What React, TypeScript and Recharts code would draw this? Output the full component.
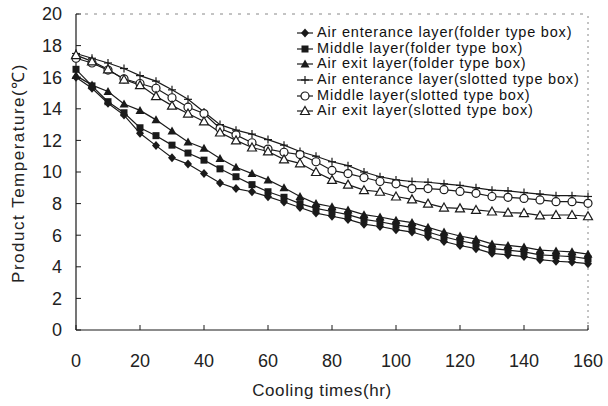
import React from 'react';
import { LineChart, Line, XAxis, YAxis, Legend, ReferenceLine } from 'recharts';

const hours = [0, 5, 10, 15, 20, 25, 30, 35, 40, 45, 50, 55, 60, 65, 70, 75, 80, 85, 90, 95, 100, 105, 110, 115, 120, 125, 130, 135, 140, 145, 150, 155, 160];

const airEntranceFolder = [16.0, 15.3, 14.35, 13.6, 12.45, 11.67, 10.9, 10.5, 9.9, 9.3, 8.95, 8.75, 8.44, 8.1, 7.75, 7.4, 7.2, 7.0, 6.7, 6.55, 6.35, 6.2, 5.9, 5.6, 5.35, 5.15, 4.85, 4.75, 4.65, 4.45, 4.35, 4.3, 4.2];
const middleFolder = [16.5, 15.45, 14.45, 13.75, 12.8, 12.3, 11.7, 11.2, 10.75, 10.2, 9.7, 9.2, 8.75, 8.4, 8.0, 7.7, 7.5, 7.3, 7.0, 6.85, 6.65, 6.5, 6.2, 5.9, 5.65, 5.45, 5.15, 5.05, 4.95, 4.75, 4.7, 4.65, 4.5];
const airExitFolder = [16.1, 15.5, 15.1, 14.3, 13.9, 13.3, 12.6, 11.9, 11.5, 10.85, 10.3, 9.9, 9.5, 9.0, 8.45, 8.0, 7.8, 7.6, 7.3, 7.15, 6.95, 6.8, 6.5, 6.2, 5.95, 5.75, 5.45, 5.35, 5.25, 5.05, 5.0, 4.95, 4.8];
const airEntranceSlotted = [17.5, 17.2, 16.9, 16.55, 16.1, 15.75, 15.2, 14.6, 13.8, 13.0, 12.65, 12.4, 12.05, 11.7, 11.3, 11.0, 10.65, 10.4, 10.0, 9.7, 9.5, 9.4, 9.35, 9.25, 9.15, 9.0, 8.85, 8.8, 8.7, 8.6, 8.5, 8.5, 8.45];
const middleSlotted = [17.2, 16.9, 16.45, 15.9, 15.6, 15.3, 14.7, 14.1, 13.7, 12.75, 12.35, 11.85, 11.45, 11.25, 11.1, 10.65, 10.1, 9.9, 9.65, 9.4, 9.25, 8.95, 8.95, 8.88, 8.77, 8.65, 8.45, 8.4, 8.33, 8.23, 8.12, 8.12, 8.02];
const airExitSlotted = [17.4, 17.0, 16.5, 15.85, 15.5, 14.8, 14.2, 13.7, 13.2, 12.5, 12.0, 11.55, 11.3, 10.8, 10.55, 10.0, 9.5, 9.2, 8.85, 8.75, 8.45, 8.27, 8.0, 7.75, 7.7, 7.6, 7.5, 7.43, 7.4, 7.25, 7.28, 7.28, 7.2];

const xTicks = [0, 20, 40, 60, 80, 100, 120, 140, 160];
const yTicks = [0, 2, 4, 6, 8, 10, 12, 14, 16, 18, 20];

const seriesNames = [
  'Air enterance layer(folder type box)',
  'Middle layer(folder type box)',
  'Air exit layer(folder type box)',
  'Air enterance layer(slotted type box)',
  'Middle layer(slotted type box)',
  'Air exit layer(slotted type box)',
];
const seriesKeys = ['aef', 'mf', 'xf', 'aes', 'ms', 'xs'];
const seriesShapes = ['diamond', 'square', 'triangle', 'plus', 'circle', 'triangleOpen'];

const data = hours.map((h, i) => ({
  hour: h,
  aef: airEntranceFolder[i],
  mf: middleFolder[i],
  xf: airExitFolder[i],
  aes: airEntranceSlotted[i],
  ms: middleSlotted[i],
  xs: airExitSlotted[i],
}));

const INK = '#1a1a1a';
const FONT = '"Liberation Sans", Arial, sans-serif';

function MarkerShape({ shape, cx, cy }: { shape: string; cx: number; cy: number }) {
  if (cx == null || cy == null || isNaN(cx) || isNaN(cy)) return null;
  switch (shape) {
    case 'diamond':
      return <polygon points={`${cx},${cy - 4.5} ${cx + 4},${cy} ${cx},${cy + 4.5} ${cx - 4},${cy}`} fill={INK} />;
    case 'square':
      return <rect x={cx - 3.5} y={cy - 3.5} width={7} height={7} fill={INK} />;
    case 'triangle':
      return <polygon points={`${cx},${cy - 4.5} ${cx + 4.5},${cy + 3.5} ${cx - 4.5},${cy + 3.5}`} fill={INK} />;
    case 'plus':
      return (
        <g stroke={INK} strokeWidth={1.2}>
          <line x1={cx} y1={cy - 4} x2={cx} y2={cy + 4} />
          <line x1={cx - 4} y1={cy} x2={cx + 4} y2={cy} />
        </g>
      );
    case 'circle':
      return <circle cx={cx} cy={cy} r={4} fill="#fff" stroke={INK} strokeWidth={1.2} />;
    case 'triangleOpen':
      return <polygon points={`${cx},${cy - 4.5} ${cx + 4.5},${cy + 3.5} ${cx - 4.5},${cy + 3.5}`} fill="#fff" stroke={INK} strokeWidth={1.2} />;
    default:
      return null;
  }
}

const renderLegend = () => (
  <div style={{ fontFamily: FONT, fontSize: 14.5, color: '#111', lineHeight: '15.7px' }}>
    {seriesNames.map((name, i) => (
      <div key={name} style={{ display: 'flex', alignItems: 'center', height: 15.7 }}>
        <svg width={18} height={12} style={{ marginRight: 3 }}>
          <line x1={1} y1={6} x2={17} y2={6} stroke={INK} strokeWidth={1.2} />
          <MarkerShape shape={seriesShapes[i]} cx={9} cy={6} />
        </svg>
        <span style={{ whiteSpace: 'nowrap', letterSpacing: 0.8 }}>{name}</span>
      </div>
    ))}
  </div>
);

export default function App() {
  return (
    <div style={{ position: 'absolute', left: 0, top: 0, background: '#fff' }}>
      <LineChart width={608} height={406} data={data} margin={{ top: 14, right: 20, bottom: 46, left: 36 }}>
        <XAxis
          dataKey="hour"
          type="number"
          domain={[0, 160]}
          ticks={xTicks}
          axisLine={{ stroke: INK, strokeWidth: 1.2 }}
          tickLine={{ stroke: INK }}
          tickSize={-5}
          tickMargin={29}
          height={30}
          tick={{ fill: '#222', fontSize: 18, fontFamily: FONT }}
          label={{
            content: () => (
              <text x={322} y={396} textAnchor="middle" fill="#222" fontSize={17} fontFamily={FONT} letterSpacing={0.6}>
                Cooling times(hr)
              </text>
            ),
          }}
        />
        <YAxis
          type="number"
          domain={[0, 20]}
          ticks={yTicks}
          width={40}
          axisLine={{ stroke: INK, strokeWidth: 1.2 }}
          tickLine={{ stroke: INK }}
          tickSize={-5}
          tickMargin={19}
          tick={{ fill: '#222', fontSize: 18, fontFamily: FONT }}
          label={{
            content: () => (
              <text x={24} y={173} transform="rotate(-90 24 173)" textAnchor="middle" fill="#222" fontSize={17} fontFamily={FONT} letterSpacing={1.5}>
                Product Temperature(℃)
              </text>
            ),
          }}
        />
        <ReferenceLine y={20} stroke="#888" strokeDasharray="3 6" strokeWidth={1} />
        <ReferenceLine x={160} stroke="#888" strokeDasharray="2 4" strokeWidth={1} />
        {seriesKeys.map((k, i) => (
          <Line
            key={k}
            type="linear"
            dataKey={k}
            name={seriesNames[i]}
            stroke={INK}
            strokeWidth={1.2}
            isAnimationActive={false}
            dot={(p: any) => (
              <MarkerShape key={`${k}-${p.index}`} shape={seriesShapes[i]} cx={p.cx} cy={p.cy} />
            )}
            activeDot={false}
          />
        ))}
        <Legend
          content={renderLegend}
          layout="vertical"
          align="center"
          verticalAlign="middle"
          wrapperStyle={{ position: 'absolute', left: 296, top: 25, width: 310, bottom: 'auto', right: 'auto' }}
        />
      </LineChart>
    </div>
  );
}
